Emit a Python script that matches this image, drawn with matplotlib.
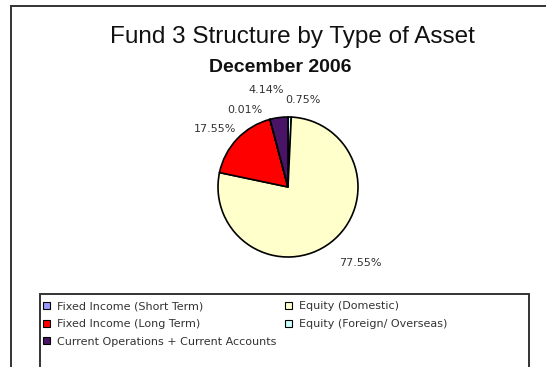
import matplotlib
matplotlib.use("Agg")
import matplotlib.pyplot as plt
from matplotlib.patches import Patch, Rectangle
import numpy as np

# asset classes in the order the slices are drawn (clockwise from 12 o'clock)
slice_names = [
    "Equity (Foreign/ Overseas)",
    "Equity (Domestic)",
    "Fixed Income (Long Term)",
    "Fixed Income (Short Term)",
    "Current Operations + Current Accounts",
]
slice_shares = [0.75, 77.55, 17.55, 0.01, 4.14]
slice_colors = ["#CCFFFF", "#FFFFCC", "#FF0000", "#9999FF", "#4A1466"]

# legend order (two columns, filled top to bottom)
legend_names = [
    "Fixed Income (Short Term)",
    "Fixed Income (Long Term)",
    "Current Operations + Current Accounts",
    "Equity (Domestic)",
    "Equity (Foreign/ Overseas)",
]

# label placement: distance from centre (in radii) and sideways nudge
label_dist = [1.24, 1.38, 1.20, 1.14, 1.40]
label_nudge = [0.19, 0.19, -0.17, -0.32, -0.13]

W, H = 546, 367
fig = plt.figure(figsize=(W / 100, H / 100), dpi=100)
fig.patch.set_facecolor("white")

# outer chart border (runs off the right and bottom edges)
fig.add_artist(Rectangle((11 / W, -0.1), 1.2, (H - 6) / H + 0.1,
                         transform=fig.transFigure, fill=False,
                         edgecolor="#333333", linewidth=1.4))

fig.text(292 / W, 1 - 37 / H, "Fund 3 Structure by Type of Asset",
         ha="center", va="center", fontsize=17.5, family="Liberation Sans",
         color="#111111")
fig.text(280 / W, 1 - 67 / H, "December 2006",
         ha="center", va="center", fontsize=14, fontweight="bold",
         family="Liberation Sans", color="#111111")

# pie axes: centre at (288, 187) px, one unit = 70 px
cx, cy, r = 288, 187, 70
ax = fig.add_axes([(cx - 2 * r) / W, (H - cy - 2 * r) / H, 4 * r / W, 4 * r / H])

wedges, _ = ax.pie(slice_shares, colors=slice_colors, startangle=90,
                   counterclock=False, radius=1,
                   wedgeprops=dict(edgecolor="black", linewidth=1.2))
ax.set_xlim(-2, 2)
ax.set_ylim(-2, 2)
ax.axis("off")

for w, share, d, dx in zip(wedges, slice_shares, label_dist, label_nudge):
    mid = np.deg2rad((w.theta1 + w.theta2) / 2)
    ax.text(d * np.cos(mid) + dx, d * np.sin(mid), f"{share:.2f}%",
            ha="center", va="center", fontsize=8, family="DejaVu Sans",
            color="#333333", clip_on=False)

# legend box (runs off the bottom edge)
fig.add_artist(Rectangle((40 / W, -0.1), (529 - 40) / W, (H - 294) / H + 0.1,
                         transform=fig.transFigure, fill=False,
                         edgecolor="#333333", linewidth=1.4))

color_of = dict(zip(slice_names, slice_colors))
handles = [Patch(facecolor=color_of[n], edgecolor="black", linewidth=0.8)
           for n in legend_names]
fig.legend(handles, legend_names, ncol=2, loc="upper left",
           bbox_to_anchor=(41 / W, 1 - 299 / H), frameon=False,
           prop={"family": "DejaVu Sans", "size": 8},
           handlelength=0.6, handleheight=0.6, handletextpad=0.65,
           labelspacing=0.7, columnspacing=0.8, borderpad=0.2,
           borderaxespad=0, labelcolor="#333333")

fig.savefig("out.png", dpi=100)
